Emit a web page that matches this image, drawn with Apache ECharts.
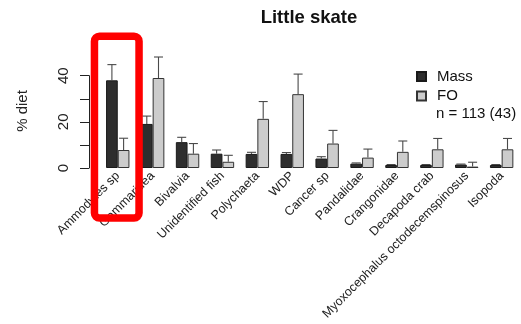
<!DOCTYPE html>
<html>
<head>
<meta charset="utf-8">
<script src="https://cdn.jsdelivr.net/npm/echarts@6/dist/echarts.min.js"></script>
<style>
  html, body { margin: 0; padding: 0; background: #fff; }
  #chart { width: 521px; height: 324px; }
</style>
</head>
<body>
<div id="chart"></div>
<script>
// Prey categories in the diet of little skate
const categories = [
  'Ammodytes sp', 'Gammaridea', 'Bivalvia', 'Unidentified fish', 'Polychaeta',
  'WDP', 'Cancer sp', 'Pandalidae', 'Crangonidae', 'Decapoda crab',
  'Myoxocephalus octodecemspinosus', 'Isopoda'
];
// Percent of diet by mass, with top of the error bar
const massValues = [38.0, 19.1, 11.2, 6.2, 6.1, 6.1, 4.1, 1.9, 1.3, 1.3, 1.5, 1.3];
const massUpper  = [44.8, 22.5, 13.3, 7.8, 6.8, 6.7, 4.9, 2.2, 1.5, 1.5, 1.7, 1.5];
// Frequency of occurrence, with top of the error bar
const foValues = [7.8, 39.0, 6.2, 2.7, 21.3, 32.0, 10.6, 4.5, 7.0, 8.1, 0.6, 8.1];
const foUpper  = [12.9, 48.1, 10.6, 5.5, 28.8, 40.7, 16.3, 8.2, 11.7, 12.8, 2.5, 12.8];

const titleText = 'Little skate';
const yAxisTitle = '% diet';
const sampleNote = 'n = 113 (43)';
const highlighted = 'Ammodytes sp';

const BAR_W = 11.7;
const FONT = '"Liberation Sans", Arial, sans-serif';

const chart = echarts.init(document.getElementById('chart'), null, { renderer: 'canvas' });

function errorBar(offset, upperArr, valueArr) {
  return {
    type: 'custom',
    clip: false,
    silent: true,
    z: 5,
    data: categories.map((c, i) => [i, valueArr[i], upperArr[i]]),
    renderItem: function (params, api) {
      const base = api.coord([api.value(0), api.value(1)]);
      const top = api.coord([api.value(0), api.value(2)]);
      const x = base[0] + offset;
      const cap = 4.5;
      const style = { stroke: '#4a4a4a', lineWidth: 1.1 };
      return {
        type: 'group',
        children: [
          { type: 'line', shape: { x1: x, y1: base[1], x2: x, y2: top[1] }, style: style },
          { type: 'line', shape: { x1: x - cap, y1: top[1], x2: x + cap, y2: top[1] }, style: style }
        ]
      };
    }
  };
}

const option = {
  animation: false,
  backgroundColor: '#ffffff',
  textStyle: { fontFamily: FONT },
  grid: { left: 100.3, width: 418.8, top: 75.7, height: 92.3, containLabel: false },
  legend: {
    orient: 'vertical',
    left: 411,
    top: 64,
    itemWidth: 9,
    itemHeight: 9,
    itemGap: 4.5,
    icon: 'rect',
    textStyle: { fontSize: 15, color: '#111', fontFamily: FONT, lineHeight: 15, padding: [0, 0, 0, 6] },
    data: ['Mass', 'FO']
  },
  xAxis: {
    type: 'category',
    data: categories,
    axisLine: { show: false },
    axisTick: { show: false },
    axisLabel: {
      rotate: 45,
      interval: 0,
      margin: 6,
      fontSize: 12.5,
      color: '#222',
      fontFamily: FONT
    }
  },
  yAxis: {
    type: 'value',
    min: 0,
    max: 40,
    interval: 10,
    offset: 11.3,
    splitLine: { show: false },
    axisLine: { show: true, lineStyle: { color: '#222', width: 1 } },
    axisTick: { show: true, length: 9, lineStyle: { color: '#222', width: 1 } },
    axisLabel: {
      rotate: 90,
      margin: 18,
      fontSize: 15,
      color: '#222',
      fontFamily: FONT,
      align: 'center',
      verticalAlign: 'bottom',
      formatter: v => (v % 20 === 0 ? String(v) : '')
    }
  },
  series: [
    {
      name: 'Mass',
      type: 'bar',
      data: massValues,
      barWidth: BAR_W,
      barGap: '0%',
      itemStyle: { color: '#2e2e2e', borderColor: '#1a1a1a', borderWidth: 1 }
    },
    {
      name: 'FO',
      type: 'bar',
      data: foValues,
      barWidth: BAR_W,
      barGap: '0%',
      itemStyle: { color: '#cccccc', borderColor: '#333333', borderWidth: 1 }
    },
    errorBar(-BAR_W / 2, massUpper, massValues),
    errorBar(BAR_W / 2, foUpper, foValues)
  ]
};

chart.setOption(option);

// Annotations: title, axis name, sample size and the highlight frame
const hx = chart.convertToPixel({ xAxisIndex: 0 }, highlighted);
chart.setOption({
  graphic: [
    {
      type: 'text', x: 309, y: 17.5, z: 10,
      style: { text: titleText, font: 'bold 18.5px ' + FONT, fill: '#111', align: 'center', verticalAlign: 'middle' }
    },
    {
      type: 'text', x: 23, y: 111, rotation: Math.PI / 2, z: 10,
      style: { text: yAxisTitle, font: '15px ' + FONT, fill: '#222', align: 'center', verticalAlign: 'middle' }
    },
    {
      type: 'text', x: 436, y: 113.5, z: 10,
      style: { text: sampleNote, font: '15px ' + FONT, fill: '#111', align: 'left', verticalAlign: 'middle' }
    },
    {
      type: 'rect', z: 20,
      shape: { x: hx - 23.3, y: 36.2, width: 44.6, height: 181.8, r: 5 },
      style: { fill: 'none', stroke: '#ff0000', lineWidth: 7.5 }
    }
  ]
});
</script>
</body>
</html>
